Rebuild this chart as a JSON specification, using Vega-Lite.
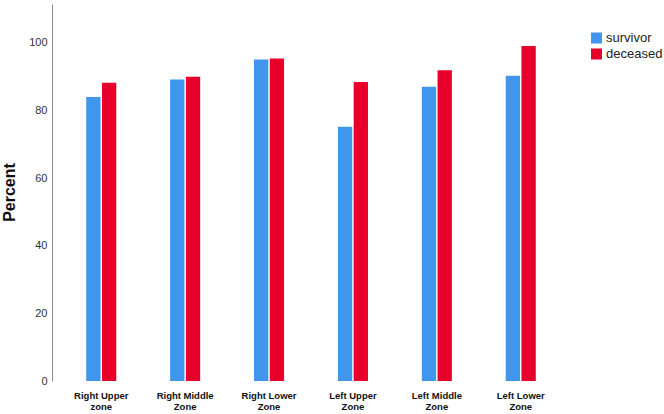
{
  "$schema": "https://vega.github.io/schema/vega-lite/v6.json",
  "autosize": "none",
  "width": 518,
  "height": 377,
  "padding": {"left": 52, "top": 4, "right": 94, "bottom": 33},
  "background": "white",
  "config": {"view": {"stroke": null}},
  "data": {
    "values": [
      {"zone": "Right Upper zone", "group": "survivor", "percent": 84.0},
      {"zone": "Right Upper zone", "group": "deceased", "percent": 88.2},
      {"zone": "Right Middle Zone", "group": "survivor", "percent": 89.2},
      {"zone": "Right Middle Zone", "group": "deceased", "percent": 90.0},
      {"zone": "Right Lower Zone", "group": "survivor", "percent": 95.1},
      {"zone": "Right Lower Zone", "group": "deceased", "percent": 95.4},
      {"zone": "Left Upper Zone", "group": "survivor", "percent": 75.2},
      {"zone": "Left Upper Zone", "group": "deceased", "percent": 88.4},
      {"zone": "Left Middle Zone", "group": "survivor", "percent": 87.0},
      {"zone": "Left Middle Zone", "group": "deceased", "percent": 91.9},
      {"zone": "Left Lower Zone", "group": "survivor", "percent": 90.3},
      {"zone": "Left Lower Zone", "group": "deceased", "percent": 99.1}
    ]
  },
  "mark": {"type": "bar"},
  "encoding": {
    "x": {
      "field": "zone",
      "type": "nominal",
      "sort": null,
      "scale": {"paddingInner": 0.642, "paddingOuter": 0.408},
      "axis": {
        "title": null,
        "domain": false,
        "ticks": false,
        "labelAngle": 0,
        "labelPadding": 9,
        "labelFont": "Liberation Sans",
        "labelFontWeight": "bold",
        "labelFontSize": 9.5,
        "labelColor": "#111111",
        "labelLineHeight": 11,
        "labelExpr": "[slice(datum.label, 0, lastindexof(datum.label, ' ')), slice(datum.label, lastindexof(datum.label, ' ') + 1)]"
      }
    },
    "xOffset": {
      "field": "group",
      "type": "nominal",
      "sort": ["survivor", "deceased"],
      "scale": {"paddingInner": 0.09, "paddingOuter": 0}
    },
    "y": {
      "field": "percent",
      "type": "quantitative",
      "scale": {"domain": [0, 111.5], "nice": false},
      "axis": {
        "title": "Percent",
        "titleFont": "Liberation Sans",
        "titleFontSize": 16,
        "titleFontWeight": "bold",
        "titleColor": "#111111",
        "titleX": -38,
        "titleY": 188,
        "titleBaseline": "alphabetic",
        "values": [0, 20, 40, 60, 80, 100],
        "grid": false,
        "ticks": false,
        "labelPadding": 5,
        "labelFont": "Liberation Sans",
        "labelFontSize": 11,
        "labelColor": "#333333",
        "domainColor": "#8a8a8a",
        "domainWidth": 1
      }
    },
    "color": {
      "field": "group",
      "type": "nominal",
      "sort": ["survivor", "deceased"],
      "scale": {"domain": ["survivor", "deceased"], "range": ["#3F96EC", "#E8002B"]},
      "legend": {
        "title": null,
        "orient": "none",
        "legendX": 538,
        "legendY": 27.5,
        "padding": 0,
        "symbolType": "square",
        "symbolSize": 121,
        "symbolStrokeWidth": 0,
        "symbolOpacity": 1,
        "labelFont": "Liberation Sans",
        "labelFontSize": 13,
        "labelColor": "#222222",
        "labelOffset": 3,
        "rowPadding": 2
      }
    }
  }
}
